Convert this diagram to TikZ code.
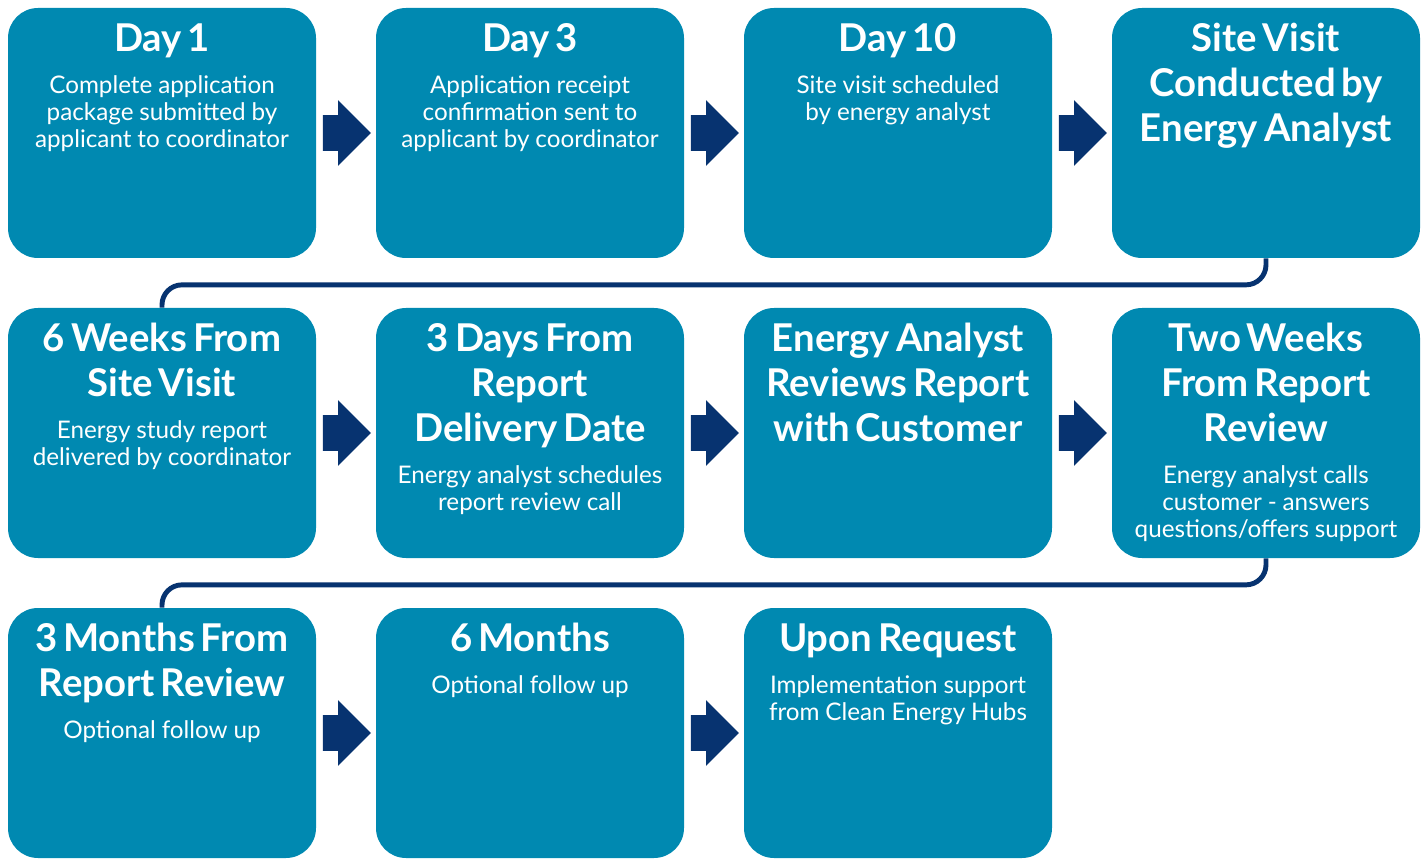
\documentclass[tikz,border=0pt]{standalone}
\usepackage{fontspec}
\setmainfont{Lato}
\usetikzlibrary{shapes.arrows}

\definecolor{boxblue}{RGB}{0,137,177}
\definecolor{navy}{RGB}{7,51,112}

\newcommand{\stagehead}{\fontsize{21.8}{25.6}\selectfont\bfseries}
\newcommand{\stagebody}{\fontsize{13.8}{15.4}\selectfont}

\begin{document}
\begin{tikzpicture}[node distance=7.36cm, auto]
    % Define styles
    \tikzstyle{stage} = [rectangle, fill=boxblue, text=white, rounded corners=0.6cm, inner sep=0pt, text width=6.16cm, align=center, text height=0.87cm, text depth=4.13cm]
    \tikzstyle{flow} = [single arrow, fill=navy, inner xsep=0pt, inner ysep=0.35cm, single arrow head extend=0.3cm, single arrow tip angle=90, minimum height=0.96cm, node distance=3.68cm, xshift=-0.16cm]
    \tikzstyle{link} = [draw=navy, line width=2.8pt, rounded corners=0.4cm]

    \useasboundingbox (0,0) rectangle (28.54,-17.18);

    % Place nodes - first row
    \node [stage] (day1) at (3.24,-2.66) {{\stagehead Day 1\par}\vspace{8.5pt}{\stagebody Complete application\\package submitted by\\applicant to coordinator\par}};
    \node [stage, right of=day1] (day3) {{\stagehead Day 3\par}\vspace{8.5pt}{\stagebody Application receipt\\confirmation sent to\\applicant by coordinator\par}};
    \node [stage, right of=day3] (day10) {{\stagehead Day 10\par}\vspace{8.5pt}{\stagebody Site visit scheduled\\by energy analyst\par}};
    \node [stage, right of=day10] (visit) {{\stagehead Site Visit\\Conducted by\\Energy Analyst\par}};

    % Place nodes - second row
    \node [stage, below of=day1, node distance=6cm] (week6) {{\stagehead 6 Weeks From\\Site Visit\par}\vspace{8.5pt}{\stagebody Energy study report\\delivered by coordinator\par}};
    \node [stage, right of=week6] (days3) {{\stagehead 3 Days From\\Report\\Delivery Date\par}\vspace{8.5pt}{\stagebody Energy analyst schedules\\report review call\par}};
    \node [stage, right of=days3] (review) {{\stagehead Energy Analyst\\Reviews Report\\with Customer\par}};
    \node [stage, right of=review] (weeks2) {{\stagehead Two Weeks\\From Report\\Review\par}\vspace{8.5pt}{\stagebody Energy analyst calls\\customer - answers\\questions/offers support\par}};

    % Place nodes - third row
    \node [stage, below of=week6, node distance=6cm] (months3) {{\stagehead 3 Months From\\Report Review\par}\vspace{8.5pt}{\stagebody Optional follow up\par}};
    \node [stage, right of=months3] (months6) {{\stagehead 6 Months\par}\vspace{8.5pt}{\stagebody Optional follow up\par}};
    \node [stage, right of=months6] (request) {{\stagehead Upon Request\par}\vspace{8.5pt}{\stagebody Implementation support\\from Clean Energy Hubs\par}};

    % Place arrows between boxes
    \node [flow, right of=day1] (a1) {};
    \node [flow, right of=day3] (a2) {};
    \node [flow, right of=day10] (a3) {};
    \node [flow, right of=week6] (a4) {};
    \node [flow, right of=days3] (a5) {};
    \node [flow, right of=review] (a6) {};
    \node [flow, right of=months3] (a7) {};
    \node [flow, right of=months6] (a8) {};

    % Draw row connectors
    \path [link] (visit.south) -- ++(0,-0.53) -| (week6.north);
    \path [link] (weeks2.south) -- ++(0,-0.53) -| (months3.north);

\end{tikzpicture}
\end{document}
